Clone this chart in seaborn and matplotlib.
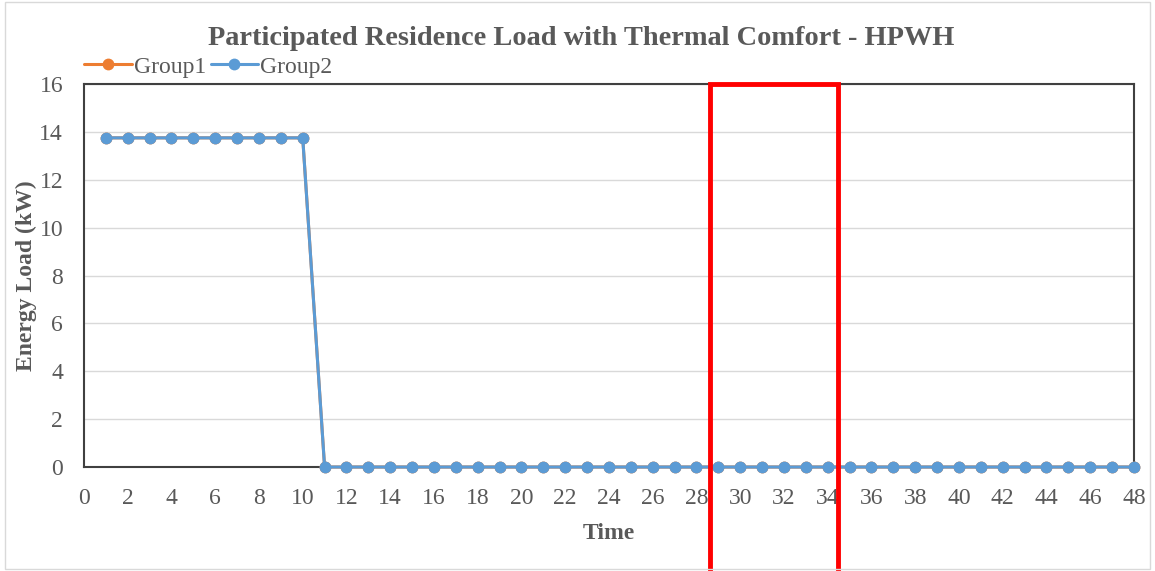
import numpy as np
import pandas as pd
import matplotlib
matplotlib.use("Agg")
import matplotlib.pyplot as plt
from matplotlib.patches import Rectangle
from matplotlib.lines import Line2D
import seaborn as sns

# Hourly-slot load for the two participant groups
time_slots = list(range(1, 49))
group1_load = [13.75] * 10 + [0.0] * 38
group2_load = [13.75] * 10 + [0.0] * 38
series_names = ["Group1", "Group2"]
x_ticks = list(range(0, 50, 2))
y_ticks = list(range(0, 18, 2))
highlight_window = (28.6, 34.45)

df = pd.DataFrame({
    "Time": time_slots * 2,
    "Load": group1_load + group2_load,
    "Series": [series_names[0]] * len(time_slots) + [series_names[1]] * len(time_slots),
})

sns.set_theme(style="white")
plt.rcParams["font.family"] = ["Liberation Serif", "DejaVu Serif"]

fig = plt.figure(figsize=(11.55, 5.71), dpi=100)
ax = fig.add_axes([0.0727, 0.1821, 0.9091, 0.6708])

palette = {"Group1": "#ED7D31", "Group2": "#5B9BD5"}
sns.lineplot(data=df, x="Time", y="Load", hue="Series", palette=palette,
             marker="o", markersize=8.5, markeredgewidth=0, linewidth=2.2,
             ax=ax, legend=False)
for ln in ax.lines:
    ln.set_clip_on(False)
    ln.set_zorder(4)

ax.set_xlim(0, 48)
ax.set_ylim(0, 16)
ax.set_xticks(x_ticks)
ax.set_yticks(y_ticks)
ax.grid(axis="y", color="#D9D9D9", linewidth=1)
ax.set_axisbelow(True)
for s in ax.spines.values():
    s.set_color("#404040")
    s.set_linewidth(1.5)
ax.tick_params(axis="x", labelsize=17, colors="#595959", length=0, pad=15)
ax.tick_params(axis="y", labelsize=17, colors="#595959", length=0, pad=15)

ax.set_xlabel("Time", fontsize=17, fontweight="bold", color="#595959", labelpad=10)
ax.set_ylabel("Energy Load (kW)", fontsize=17, fontweight="bold", color="#595959", labelpad=2)

fig.text(0.503, 0.933, "Participated Residence Load with Thermal Comfort - HPWH",
         ha="center", va="center", fontsize=20.4, fontweight="bold", color="#595959")

# legend
handles = [Line2D([0], [0], color=palette[n], marker="o", markersize=8.5,
                  markeredgewidth=0, linewidth=2.2) for n in series_names]
fig.legend(handles, series_names, loc="center left", bbox_to_anchor=(0.073, 0.883),
           ncol=2, frameon=False, fontsize=17, handlelength=2.0, handletextpad=0.1,
           columnspacing=0.2, labelcolor="#595959", borderpad=0, borderaxespad=0)

# highlighted period
rect = Rectangle((highlight_window[0], -0.275), highlight_window[1] - highlight_window[0], 1.275,
                 transform=ax.get_xaxis_transform(), fill=False, edgecolor="#FF0000",
                 linewidth=3.5, clip_on=False, zorder=5)
ax.add_patch(rect)

# chart-area border
fig.patches.append(Rectangle((0.004, 0.004), 0.992, 0.992, transform=fig.transFigure,
                             fill=False, edgecolor="#D9D9D9", linewidth=1))

fig.savefig("out.png", dpi=100)
